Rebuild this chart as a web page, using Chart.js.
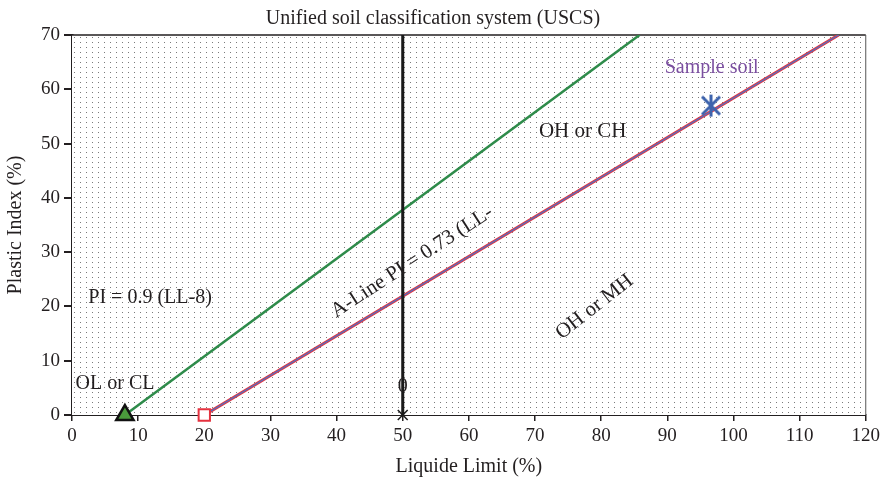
<!DOCTYPE html>
<html><head><meta charset="utf-8">
<script src="https://cdn.jsdelivr.net/npm/chart.js@4"></script>
<style>html,body{margin:0;padding:0;background:#fff}#wrap{width:884px;height:483px}</style>
</head><body><div id="wrap"><canvas id="c" width="884" height="483"></canvas></div>
<script>
const xTicks = [0,10,20,30,40,50,60,70,80,90,100,110,120];
const yTicks = [0,10,20,30,40,50,60,70];
const uLineLL = [8, 85.8];
const uLinePI = [0, 70];
const aLineLL = [20, 115.9];
const aLinePI = [0, 70];
const llLineLL = [50, 50];
const llLinePI = [0, 70];
const sampleLL = [96.6];
const samplePI = [57.0];
const triLL = [8], triPI = [0];
const sqLL = [20], sqPI = [0];
const crossLL = [50], crossPI = [0];
const labels = [
  {t:'Sample soil', x:96.7, y:64.0, rot:0, color:'#7b4fa0', size:20},
  {t:'OH or CH', x:77.2, y:52.3, rot:0, color:'#231f20', size:21},
  {t:'PI = 0.9 (LL-8)', x:11.8, y:21.6, rot:0, color:'#231f20', size:20},
  {t:'OL or CL', x:6.5, y:5.8, rot:0, color:'#231f20', size:20},
  {t:'0', x:50, y:5.2, rot:0, color:'#231f20', size:20},
  {t:'A-Line PI = 0.73 (LL-', x:51.4, y:28.2, rot:-33, color:'#231f20', size:21},
  {t:'OH or MH', x:79.0, y:19.9, rot:-38, color:'#231f20', size:21}
];
const zip = (a,b)=>a.map((v,i)=>({x:v,y:b[i]}));
const FONT = '"Liberation Serif"';

// asterisk marker
const ast = document.createElement('canvas'); ast.width=24; ast.height=24;
(function(){const g=ast.getContext('2d'); g.strokeStyle='#3d63ad'; g.lineWidth=3; g.lineCap='butt';
 g.beginPath(); g.moveTo(3,3); g.lineTo(21,21); g.moveTo(21,3); g.lineTo(3,21); g.moveTo(12,1); g.lineTo(12,23); g.stroke();})();

// dotted background pattern
const pat = document.createElement('canvas'); pat.width=6; pat.height=5;
(function(){const g=pat.getContext('2d'); g.fillStyle='#fff'; g.fillRect(0,0,6,5);
 g.fillStyle='#7a7a7a'; g.fillRect(2,2,1,1);})();

const bgPlugin = {id:'bg', beforeDatasetsDraw(ch){const {ctx,chartArea:a}=ch; ctx.save();
  ctx.fillStyle = ctx.createPattern(pat,'repeat'); ctx.fillRect(a.left,a.top,a.right-a.left,a.bottom-a.top);
  ctx.strokeStyle='#231f20'; ctx.lineWidth=1.5; ctx.beginPath(); ctx.moveTo(a.left,a.top); ctx.lineTo(a.right,a.top); ctx.stroke();
  ctx.strokeStyle='#555'; ctx.lineWidth=1; ctx.beginPath(); ctx.moveTo(a.right,a.top); ctx.lineTo(a.right,a.bottom); ctx.stroke();
  ctx.restore();}};
const textPlugin = {id:'txt', afterDatasetsDraw(ch){const {ctx,scales}=ch; ctx.save();
  labels.forEach(l=>{const px=scales.x.getPixelForValue(l.x), py=scales.y.getPixelForValue(l.y);
    ctx.save(); ctx.translate(px,py); ctx.rotate(l.rot*Math.PI/180);
    ctx.font = l.size+'px '+FONT; ctx.fillStyle=l.color; ctx.textAlign='center'; ctx.textBaseline='middle';
    ctx.fillText(l.t,0,0); ctx.restore();});
  ctx.restore();}};

new Chart(document.getElementById('c'), {
  type:'scatter',
  data:{datasets:[
    {data:zip(sampleLL,samplePI), pointStyle:ast, clip:false},
    {data:zip(crossLL,crossPI), pointStyle:'crossRot', pointRadius:7, borderColor:'#1a1a1a', borderWidth:1.5, clip:false},
    {data:zip(sqLL,sqPI), pointStyle:'rect', pointRadius:8, backgroundColor:'#fff', borderColor:'#e5323f', borderWidth:2, clip:false},
    {data:zip(triLL,triPI), pointStyle:'triangle', pointRadius:10, backgroundColor:'#4a9a3c', borderColor:'#111', borderWidth:2.5, clip:false},
    {data:zip(llLineLL,llLinePI), showLine:true, borderColor:'#1a1a1a', borderWidth:3, pointRadius:0},
    {data:zip(aLineLL,aLinePI), showLine:true, borderColor:'#4f73c2', borderWidth:1.3, pointRadius:0},
    {data:zip(aLineLL,aLinePI), showLine:true, borderColor:'#e5323f', borderWidth:3.2, pointRadius:0},
    {data:zip(uLineLL,uLinePI), showLine:true, borderColor:'#2e8b4a', borderWidth:2.5, pointRadius:0}
  ]},
  options:{
    responsive:false, animation:false, devicePixelRatio:1,
    layout:{padding:{left:0,right:18,top:0,bottom:0}},
    plugins:{legend:{display:false}, tooltip:{enabled:false},
      title:{display:true, text:'Unified soil classification system (USCS)', color:'#231f20',
        font:{family:FONT, size:20, weight:'normal'}, padding:{top:7,bottom:4}}},
    scales:{
      x:{type:'linear', min:0, max:120, afterBuildTicks(s){s.ticks=xTicks.map(v=>({value:v}));},
        afterFit(s){s.height=68;},
        grid:{drawOnChartArea:false, drawTicks:true, tickLength:6, color:'#231f20', lineWidth:1.5},
        border:{display:true, color:'#231f20', width:2},
        ticks:{color:'#231f20', font:{family:FONT, size:19}, padding:4},
        title:{display:true, text:'Liquide Limit (%)', color:'#231f20', font:{family:FONT, size:20}, padding:{top:2}}},
      y:{type:'linear', min:0, max:70, afterBuildTicks(s){s.ticks=yTicks.map(v=>({value:v}));},
        afterFit(s){s.width=72;},
        grid:{drawOnChartArea:false, drawTicks:true, tickLength:8, color:'#231f20', lineWidth:2},
        border:{display:true, color:'#231f20', width:2.5},
        ticks:{color:'#231f20', font:{family:FONT, size:19}, padding:4},
        title:{display:true, text:'Plastic Index (%)', color:'#231f20', font:{family:FONT, size:20}, padding:{bottom:4}}}
    }
  },
  plugins:[bgPlugin,textPlugin]
});
</script></body></html>
